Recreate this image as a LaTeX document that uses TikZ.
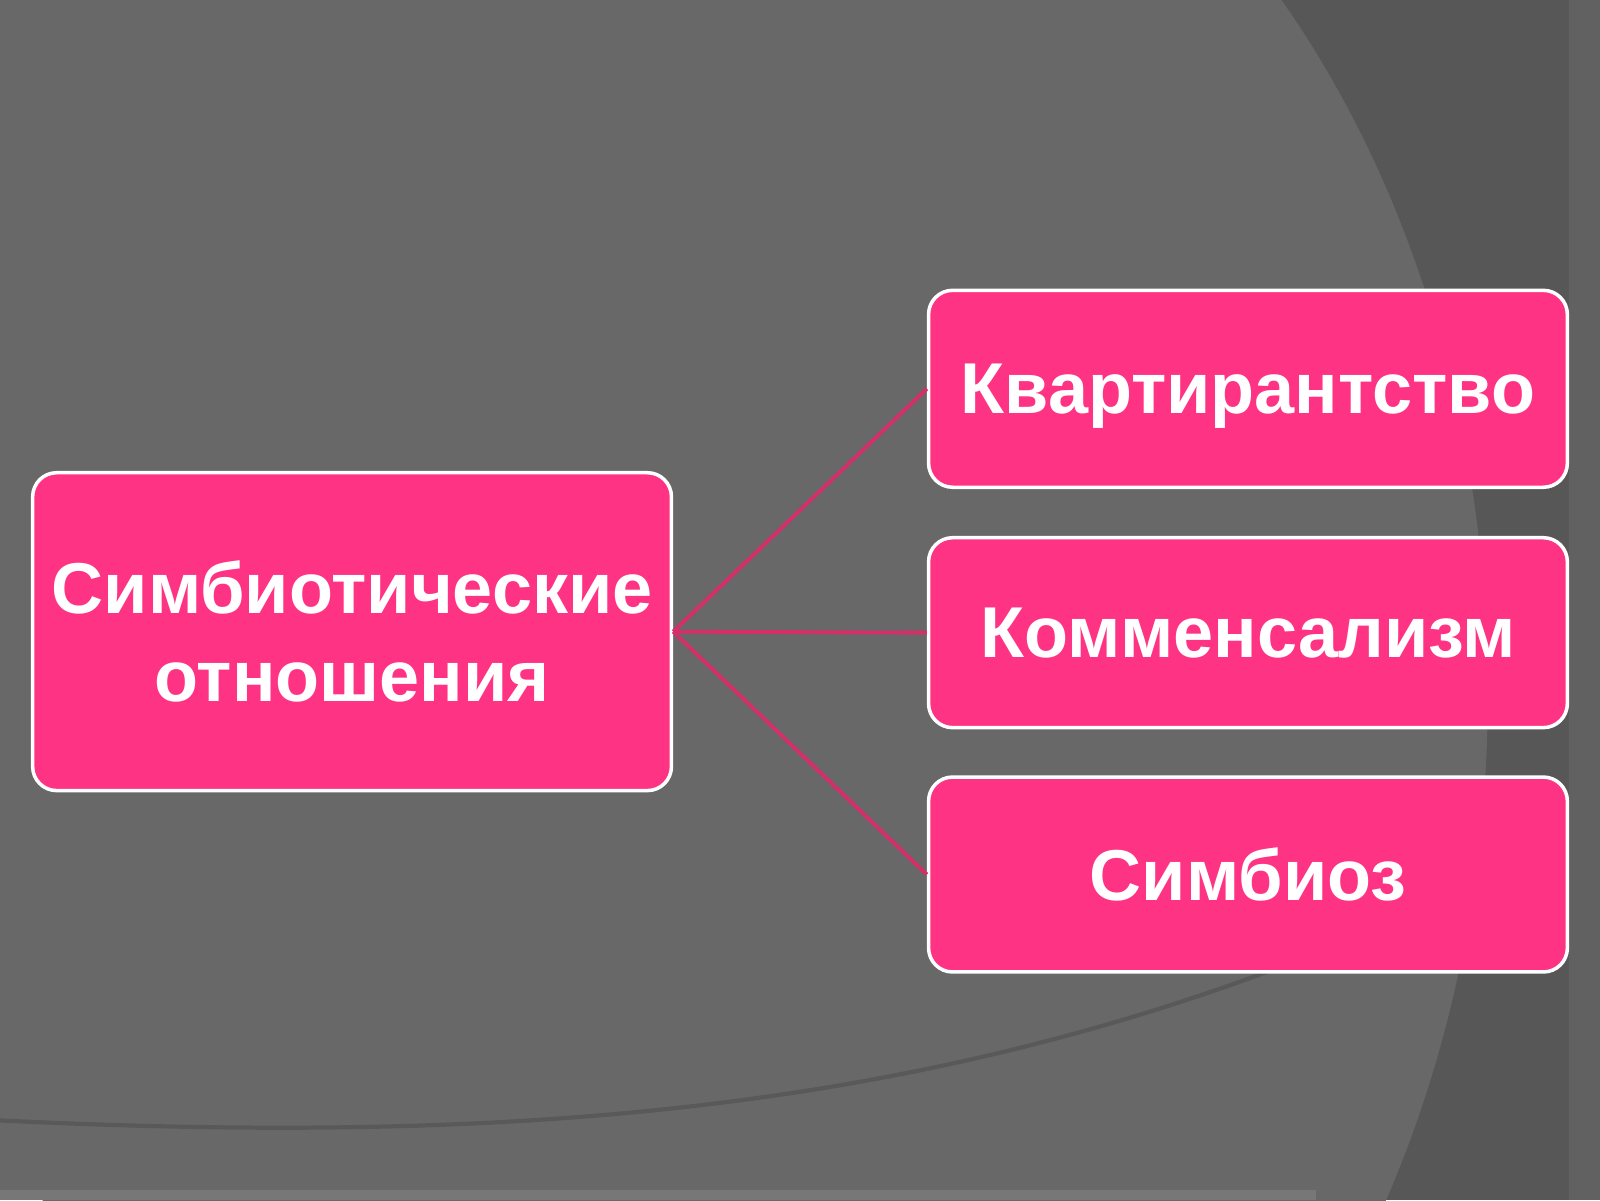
\documentclass[tikz,border=0pt]{standalone}
\usepackage{fontspec}
\setmainfont{Liberation Sans}
\definecolor{bgdark}{HTML}{575757}
\definecolor{bglight}{HTML}{686868}
\definecolor{boxpink}{HTML}{FF3384}
\definecolor{linkred}{HTML}{D42F68}
\tikzset{
  pinkbox/.style={draw=white, line width=1pt, fill=boxpink, rounded corners=0.24cm,
    minimum width=6.39cm, text=white, align=center,
    font=\fontsize{20.5}{25}\selectfont\bfseries},
  link/.style={draw=linkred, line width=1.1pt}
}
\begin{document}
\begin{tikzpicture}[x=0.010204cm, y=-0.010204cm]
      \useasboundingbox (0,0) rectangle (1568,1176);
      % background
      \fill[bgdark] (0,0) rectangle (1568,1176);
      \fill[bglight] (0,0) rectangle (690,1176);
      \fill[bglight] (700,680) ellipse (758 and 1000);
      \fill[black!62] (1538,0) rectangle (1568,1176);
      \fill[bglight!90!white] (0,1166) rectangle (1290,1176);
      \draw[black!70, line width=1.2pt, opacity=0.5]
        (0,1098) .. controls (500,1122) and (900,1090) .. (1300,930);
      % boxes
      \draw
        (345,619) node[pinkbox, minimum height=3.18cm] (rel){Симбиотические\\отношения}
        (1223,381) node[pinkbox, minimum height=1.97cm, text depth=0pt] (kvart){Квартирантство}
        (1223,620) node[pinkbox, minimum height=1.90cm, text depth=0pt] (komm){Комменсализм}
        (1223,857) node[pinkbox, minimum height=1.95cm, text depth=0pt] (simb){Симбиоз};
      \begin{scope}[-]
        \draw[link] (rel.east) to (kvart.west);
        \draw[link] (rel.east) to (komm.west);
        \draw[link] (rel.east) to (simb.west);
      \end{scope}
    \end{tikzpicture}
\end{document}
